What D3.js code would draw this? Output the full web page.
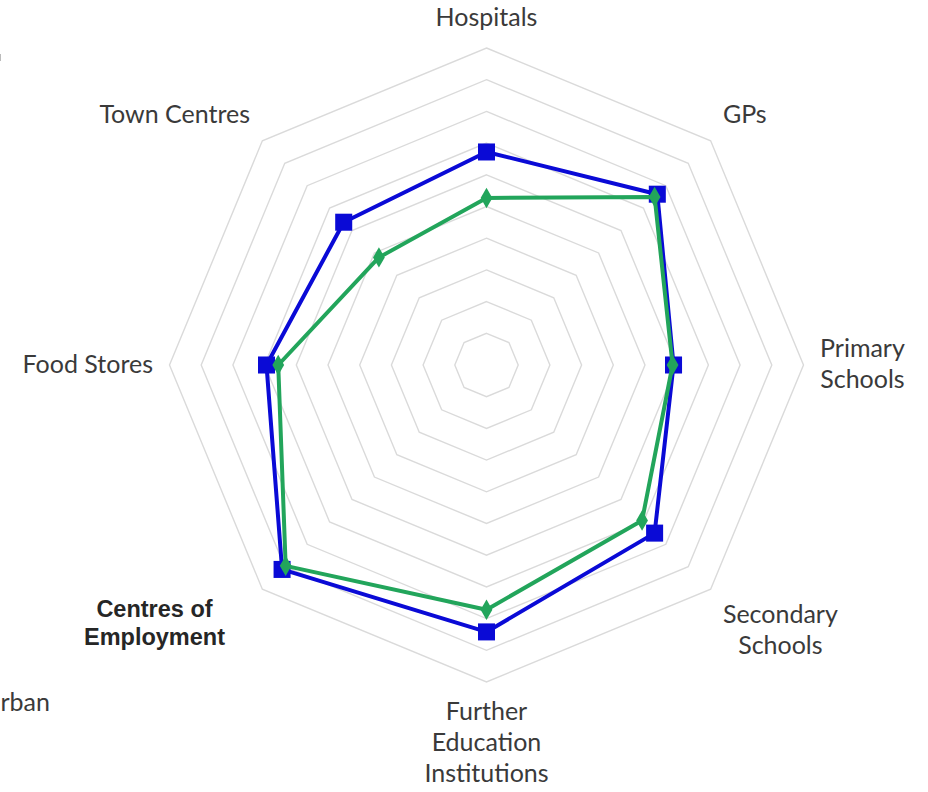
<!DOCTYPE html>
<html>
<head>
<meta charset="utf-8">
<script src="https://cdn.jsdelivr.net/npm/d3@7"></script>
<style>
  html, body { margin: 0; padding: 0; background: #ffffff; }
  svg { display: block; }
</style>
</head>
<body>
<svg id="chart" width="928" height="792"></svg>
<script>
// ---- data ----
const categories = [
  "Hospitals", "GPs", "Primary Schools", "Secondary Schools",
  "Further Education Institutions", "Centres of Employment",
  "Food Stores", "Town Centres"
];
// label line breaks (as shown in the chart)
const categoryLines = [
  ["Hospitals"], ["GPs"], ["Primary", "Schools"], ["Secondary", "Schools"],
  ["Further", "Education", "Institutions"], ["Centres of", "Employment"],
  ["Food Stores"], ["Town Centres"]
];
const seriesNames = ["Urban", "Rural"];
const seriesA = [6.72, 7.62, 5.90, 7.50, 8.42, 9.12, 6.94, 6.37];   // blue squares
const seriesB = [5.27, 7.50, 5.87, 6.94, 7.72, 8.96, 6.57, 4.80];   // green diamonds
const gridLevels = [1, 2, 3, 4, 5, 6, 7, 8, 9, 10];

// ---- layout ----
const svg = d3.select("#chart");
const cx = 486.5, cy = 365;
const r = d3.scaleLinear().domain([0, 10]).range([0, 317]);
const angle = d3.scaleLinear().domain([0, categories.length]).range([0, 2 * Math.PI]);

function pt(i, v) {
  const a = angle(i);
  return [cx + r(v) * Math.sin(a), cy - r(v) * Math.cos(a)];
}

const g = svg.append("g");

// grid rings (octagons)
const ringLine = d3.line();
g.append("g").selectAll("path")
  .data(gridLevels)
  .join("path")
  .attr("d", lv => ringLine(categories.map((c, i) => pt(i, lv))) + "Z")
  .attr("fill", "none")
  .attr("stroke", "#dadada")
  .attr("stroke-width", 1.4);

// series
const series = [
  { name: seriesNames[0], values: seriesA, color: "#0a0ad6", marker: d3.symbolSquare, size: 290 },
  { name: seriesNames[1], values: seriesB, color: "#22a55b", marker: d3.symbolDiamond, size: 120 }
];
const radarLine = d3.line().curve(d3.curveLinearClosed);
series.forEach(s => {
  const pts = s.values.map((v, i) => pt(i, v));
  g.append("path")
    .attr("d", radarLine(pts))
    .attr("fill", "none")
    .attr("stroke", s.color)
    .attr("stroke-width", 4)
    .attr("stroke-linejoin", "round");
  g.append("g").selectAll("path")
    .data(pts)
    .join("path")
    .attr("transform", d => `translate(${d[0]},${d[1]})`)
    .attr("d", d3.symbol().type(s.marker).size(s.size))
    .attr("fill", s.color);
});

// category labels
const labelR = 331.5, pad = 2, lineH = 31;
const fontNormal = { family: "Lato, 'Open Sans', sans-serif", size: 25, weight: 400, color: "#3a3a3a" };
const fontBold = { family: "'Liberation Sans', Arial, sans-serif", size: 23.5, weight: 700, color: "#262626" };

categoryLines.forEach((lines, i) => {
  const bold = categories[i] === "Centres of Employment";
  const f = bold ? fontBold : fontNormal;
  const a = angle(i);
  const s = Math.sin(a), c = Math.cos(a);
  const [px, py] = pt(i, r.invert(labelR));
  const lg = g.append("g");
  const texts = lines.map(t => lg.append("text")
    .text(t)
    .attr("font-family", f.family)
    .attr("font-size", f.size)
    .attr("font-weight", f.weight)
    .attr("fill", f.color)
    .attr("text-anchor", "middle"));
  const w = d3.max(texts, t => t.node().getComputedTextLength());
  const lh = bold ? 28 : lineH;
  const H = lines.length * lh;
  let mid;
  if (s > 0.1) mid = px + pad + w / 2;
  else if (s < -0.1) mid = px - pad - w / 2;
  else mid = px;
  let top;
  if (c > 0.1) top = py - H;
  else if (c < -0.1) top = py;
  else top = py - H / 2;
  if (bold) { mid = 154.5; top = 596; }
  texts.forEach((t, k) => {
    t.attr("x", mid).attr("y", top + (k + 0.5) * lh + f.size * 0.31);
  });
});

// partially visible legend entry at the left edge (cut off in the original)
svg.append("text")
  .attr("x", 50)
  .attr("y", 711)
  .attr("text-anchor", "end")
  .attr("font-family", fontNormal.family)
  .attr("font-size", 25)
  .attr("fill", "#3a3a3a")
  .text(seriesNames[0]);

// tiny edge mark at top-left
svg.append("line")
  .attr("x1", 0.5).attr("x2", 0.5).attr("y1", 54).attr("y2", 61)
  .attr("stroke", "#bbbbbb").attr("stroke-width", 1);
</script>
</body>
</html>
